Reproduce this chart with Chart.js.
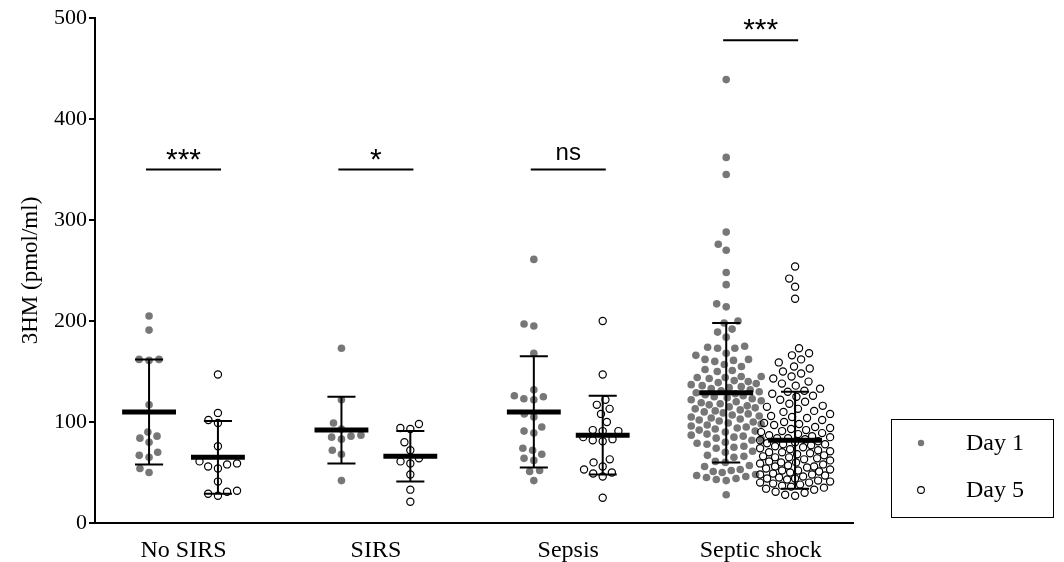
<!DOCTYPE html>
<html>
<head>
<meta charset="utf-8">
<script src="https://cdn.jsdelivr.net/npm/chart.js@4.4.0/dist/chart.umd.min.js"></script>
<style>
  html, body { margin: 0; padding: 0; background: #fff; }
  #wrap { width: 1064px; height: 562px; position: relative; }
</style>
</head>
<body>
<div id="wrap"><canvas id="chart" width="1064" height="562"></canvas></div>
<script>
/* ---- data ---- */
const categories = ['No SIRS', 'SIRS', 'Sepsis', 'Septic shock'];
const seriesNames = ['Day 1', 'Day 5'];
const yTicks = [0, 100, 200, 300, 400, 500];

// individual patients, pmol/ml
const day1NoSirs = [205, 191, 161, 162, 162, 117, 86, 84, 90, 80, 67, 65, 70, 50, 54];
const day5NoSirs = [147, 109, 102, 99, 76, 61, 58, 54, 56, 59, 41, 31, 27, 29, 32];
const day1Sirs = [173, 122, 99, 93, 85, 83, 86, 87, 72, 68, 42];
const day5Sirs = [98, 93, 94, 80, 72, 59, 61, 64, 48, 33, 21];
const day1Sepsis = [261, 197, 195, 168, 126, 123, 122, 125, 132, 105, 108, 91, 89, 95, 72, 74, 68, 64, 62, 51, 52, 42];
const day5Sepsis = [200, 147, 117, 122, 113, 108, 100, 91, 91, 92, 85, 82, 81, 83, 60, 63, 53, 49, 46, 50, 56, 25];
const day1Shock = [439, 362, 345, 288, 276, 270, 248, 236, 217, 214, 200, 198, 192, 189, 184,
  175, 173, 173, 174, 168, 166, 162, 160, 161, 162, 155, 157, 152, 151, 150, 145, 144, 143, 145, 144,
  140, 139, 141, 138, 137, 135, 134, 136, 133, 131, 130, 132, 129, 127, 126, 128, 125, 123, 122, 124,
  121, 119, 118, 120, 117, 115, 114, 116, 113, 111, 110, 112, 109, 107, 106, 108, 105, 103, 102, 104,
  101, 99, 98, 100, 97, 95, 94, 96, 93, 91, 90, 92, 87, 86, 88, 85, 83, 82, 84, 79, 78, 80, 75, 74,
  76, 71, 70, 66, 65, 67, 61, 60, 57, 56, 52, 51, 53, 50, 47, 46, 48, 45, 44, 43, 42, 28];
const day5Shock = [254, 242, 234, 222, 173, 168, 166, 162, 159, 155, 153, 150, 148, 145, 143, 140,
  138, 136, 133, 131, 130, 128, 126, 125, 122, 120, 118, 116, 115, 113, 111, 110, 108, 106, 105, 104,
  102, 100, 99, 98, 97, 95, 94, 93, 92, 91, 90, 89, 88, 87, 86, 85, 84, 84, 83, 82, 81, 80, 79, 78,
  78, 77, 76, 75, 74, 73, 72, 71, 70, 70, 69, 68, 67, 66, 65, 65, 64, 63, 62, 61, 60, 60, 59, 58,
  57, 56, 56, 55, 54, 53, 52, 52, 51, 50, 49, 48, 48, 47, 46, 45, 44, 44, 43, 42, 41, 40, 40, 39,
  38, 37, 36, 35, 34, 33, 31, 30, 28, 27];

// mean and SD bars as drawn
const day1Means = [110, 92, 110, 129];
const day1Sd = [52, 33, 55, 69];
const day5Means = [65, 66, 87, 82];
const day5Sd = [36, 25, 39, 48];

// significance brackets
const sigLabels = ['***', '*', 'ns', '***'];
const sigLevels = [350, 350, 350, 478];

const day1Groups = [day1NoSirs, day1Sirs, day1Sepsis, day1Shock];
const day5Groups = [day5NoSirs, day5Sirs, day5Sepsis, day5Shock];

/* ---- layout constants ---- */
const SIDE = 0.179;      // half distance between Day 1 and Day 5 columns (category units)
const MEAN_HALF = 0.14;
const CAP_HALF = 0.073;
const SIG_HALF = 0.195;
const SWARM_D = 10;      // px between neighbouring dots
const SWARM_MAX = 35;    // px, widest a column may spread
const SERIF = '"Liberation Serif", "Times New Roman", serif';
const SANS = '"Liberation Sans", Arial, sans-serif';

// beeswarm offsets in pixels (clamped, overlapping when crowded), turned into x units
function swarm(values, pxX, pxY) {
  const D2 = SWARM_D * SWARM_D;
  const order = values.map((v, i) => i).sort((a, b) => values[a] - values[b]);
  const placed = [];
  const off = new Array(values.length).fill(0);
  order.forEach(i => {
    const py = values[i] * pxY;
    const near = placed.filter(p => Math.abs(p.y - py) < SWARM_D);
    const cands = [0];
    near.forEach(p => {
      const dx = Math.sqrt(D2 - (p.y - py) ** 2);
      cands.push(p.x - dx, p.x + dx);
    });
    cands.sort((a, b) => Math.abs(a) - Math.abs(b) || a - b);
    let x = cands.find(c => Math.abs(c) <= SWARM_MAX &&
      near.every(p => (p.x - c) ** 2 + (p.y - py) ** 2 >= D2 - 0.01));
    if (x === undefined) {
      // no free slot: take the least crowded spot inside the column
      let best = -Infinity;
      for (let c = -SWARM_MAX; c <= SWARM_MAX; c += 1) {
        const m = Math.min(...near.map(p => (p.x - c) ** 2 + (p.y - py) ** 2));
        if (m > best) { best = m; x = c; }
      }
    }
    off[i] = x;
    placed.push({ x, y: py });
  });
  return off.map(o => o / pxX);
}

function pointsFor(groups, side, pxX, pxY) {
  const out = [];
  groups.forEach((vals, gi) => {
    const off = pxX ? swarm(vals, pxX, pxY) : vals.map(() => 0);
    vals.forEach((v, k) => out.push({ x: gi + side + off[k], y: v }));
  });
  return out;
}

function meanBars(means, side) {
  const d = [];
  means.forEach((m, i) => {
    d.push({ x: i + side - MEAN_HALF, y: m }, { x: i + side + MEAN_HALF, y: m }, { x: i + side, y: null });
  });
  return d;
}

function sdBars(means, sds, side) {
  const d = [];
  means.forEach((m, i) => {
    const c = i + side, hi = m + sds[i], lo = m - sds[i];
    d.push({ x: c, y: lo }, { x: c, y: hi }, { x: c, y: null });
    d.push({ x: c - CAP_HALF, y: hi }, { x: c + CAP_HALF, y: hi }, { x: c, y: null });
    d.push({ x: c - CAP_HALF, y: lo }, { x: c + CAP_HALF, y: lo }, { x: c, y: null });
  });
  return d;
}

function sigLines() {
  const d = [];
  sigLevels.forEach((lv, i) => {
    d.push({ x: i - SIG_HALF, y: lv }, { x: i + SIG_HALF, y: lv }, { x: i, y: null });
  });
  return d;
}

const lineStyle = { type: 'line', pointRadius: 0, borderColor: '#000', spanGaps: false, fill: false, order: 0 };

// stars over brackets + boxed legend
const annotate = {
  id: 'annotate',
  afterDraw(chart) {
    const { ctx, scales: { x, y } } = chart;
    ctx.save();
    ctx.fillStyle = '#000';
    ctx.textAlign = 'center';
    ctx.textBaseline = 'alphabetic';
    sigLabels.forEach((t, i) => {
      const px = x.getPixelForValue(i);
      const py = y.getPixelForValue(sigLevels[i]);
      if (t === 'ns') {
        ctx.font = '24px ' + SANS;
        ctx.fillText(t, px, py - 10);
      } else {
        ctx.font = '30px ' + SANS;
        ctx.fillText(t, px, py - 1);
      }
    });

    // legend box
    ctx.strokeStyle = '#000';
    ctx.lineWidth = 1;
    ctx.strokeRect(891.5, 419.5, 162, 98);
    ctx.textAlign = 'left';
    ctx.textBaseline = 'middle';
    ctx.font = '24px ' + SERIF;
    ctx.beginPath();
    ctx.arc(921, 443, 3.2, 0, Math.PI * 2);
    ctx.fillStyle = '#777';
    ctx.fill();
    ctx.beginPath();
    ctx.arc(921, 490, 3.4, 0, Math.PI * 2);
    ctx.lineWidth = 1.1;
    ctx.stroke();
    ctx.fillStyle = '#000';
    ctx.fillText(seriesNames[0], 966, 444);
    ctx.fillText(seriesNames[1], 966, 491);
    ctx.restore();
  }
};

const chart = new Chart(document.getElementById('chart'), {
  type: 'scatter',
  data: {
    datasets: [
      { label: seriesNames[0], data: pointsFor(day1Groups, -SIDE), pointRadius: 3.8, pointHoverRadius: 3.8,
        pointBackgroundColor: '#777', pointBorderWidth: 0, order: 2 },
      { label: seriesNames[1], data: pointsFor(day5Groups, SIDE), pointRadius: 3.6, pointHoverRadius: 3.6,
        pointBackgroundColor: 'rgba(0,0,0,0)', pointBorderColor: '#000', pointBorderWidth: 1.2, order: 1 },
      { ...lineStyle, label: 'mean1', data: meanBars(day1Means, -SIDE), borderWidth: 5 },
      { ...lineStyle, label: 'mean5', data: meanBars(day5Means, SIDE), borderWidth: 5 },
      { ...lineStyle, label: 'sd1', data: sdBars(day1Means, day1Sd, -SIDE), borderWidth: 2 },
      { ...lineStyle, label: 'sd5', data: sdBars(day5Means, day5Sd, SIDE), borderWidth: 2 },
      { ...lineStyle, label: 'sig', data: sigLines(), borderWidth: 2 }
    ]
  },
  options: {
    responsive: false,
    animation: false,
    events: [],
    layout: { padding: { top: 18, right: 211, bottom: 0, left: 0 } },
    plugins: { legend: { display: false }, tooltip: { enabled: false } },
    scales: {
      x: {
        type: 'linear',
        min: -0.46,
        max: 3.48,
        afterBuildTicks: s => { s.ticks = categories.map((c, i) => ({ value: i })); },
        afterFit: s => { s.height = 39; },
        grid: { display: false },
        border: { display: true, color: '#000', width: 2 },
        ticks: { color: '#000', padding: 5, font: { family: SERIF, size: 24 },
          callback: (v) => categories[v] }
      },
      y: {
        min: 0,
        max: 500,
        afterBuildTicks: s => { s.ticks = yTicks.map(v => ({ value: v })); },
        afterFit: s => { s.width = 95; },
        grid: { drawOnChartArea: false, drawTicks: true, tickLength: 6, color: '#000', lineWidth: 2 },
        border: { display: true, color: '#000', width: 2 },
        ticks: { color: '#000', padding: 2, font: { family: SERIF, size: 22 } },
        title: { display: true, text: '3HM (pmol/ml)', color: '#000', padding: { top: 17, bottom: 0 },
          font: { family: SERIF, size: 23 } }
      }
    }
  },
  plugins: [annotate]
});

// second pass: spread the points sideways now that the pixel scale is known
const sx = chart.scales.x, sy = chart.scales.y;
const pxX = sx.getPixelForValue(1) - sx.getPixelForValue(0);
const pxY = sy.getPixelForValue(0) - sy.getPixelForValue(1);
chart.data.datasets[0].data = pointsFor(day1Groups, -SIDE, pxX, pxY);
chart.data.datasets[1].data = pointsFor(day5Groups, SIDE, pxX, pxY);
chart.update('none');
</script>
</body>
</html>
